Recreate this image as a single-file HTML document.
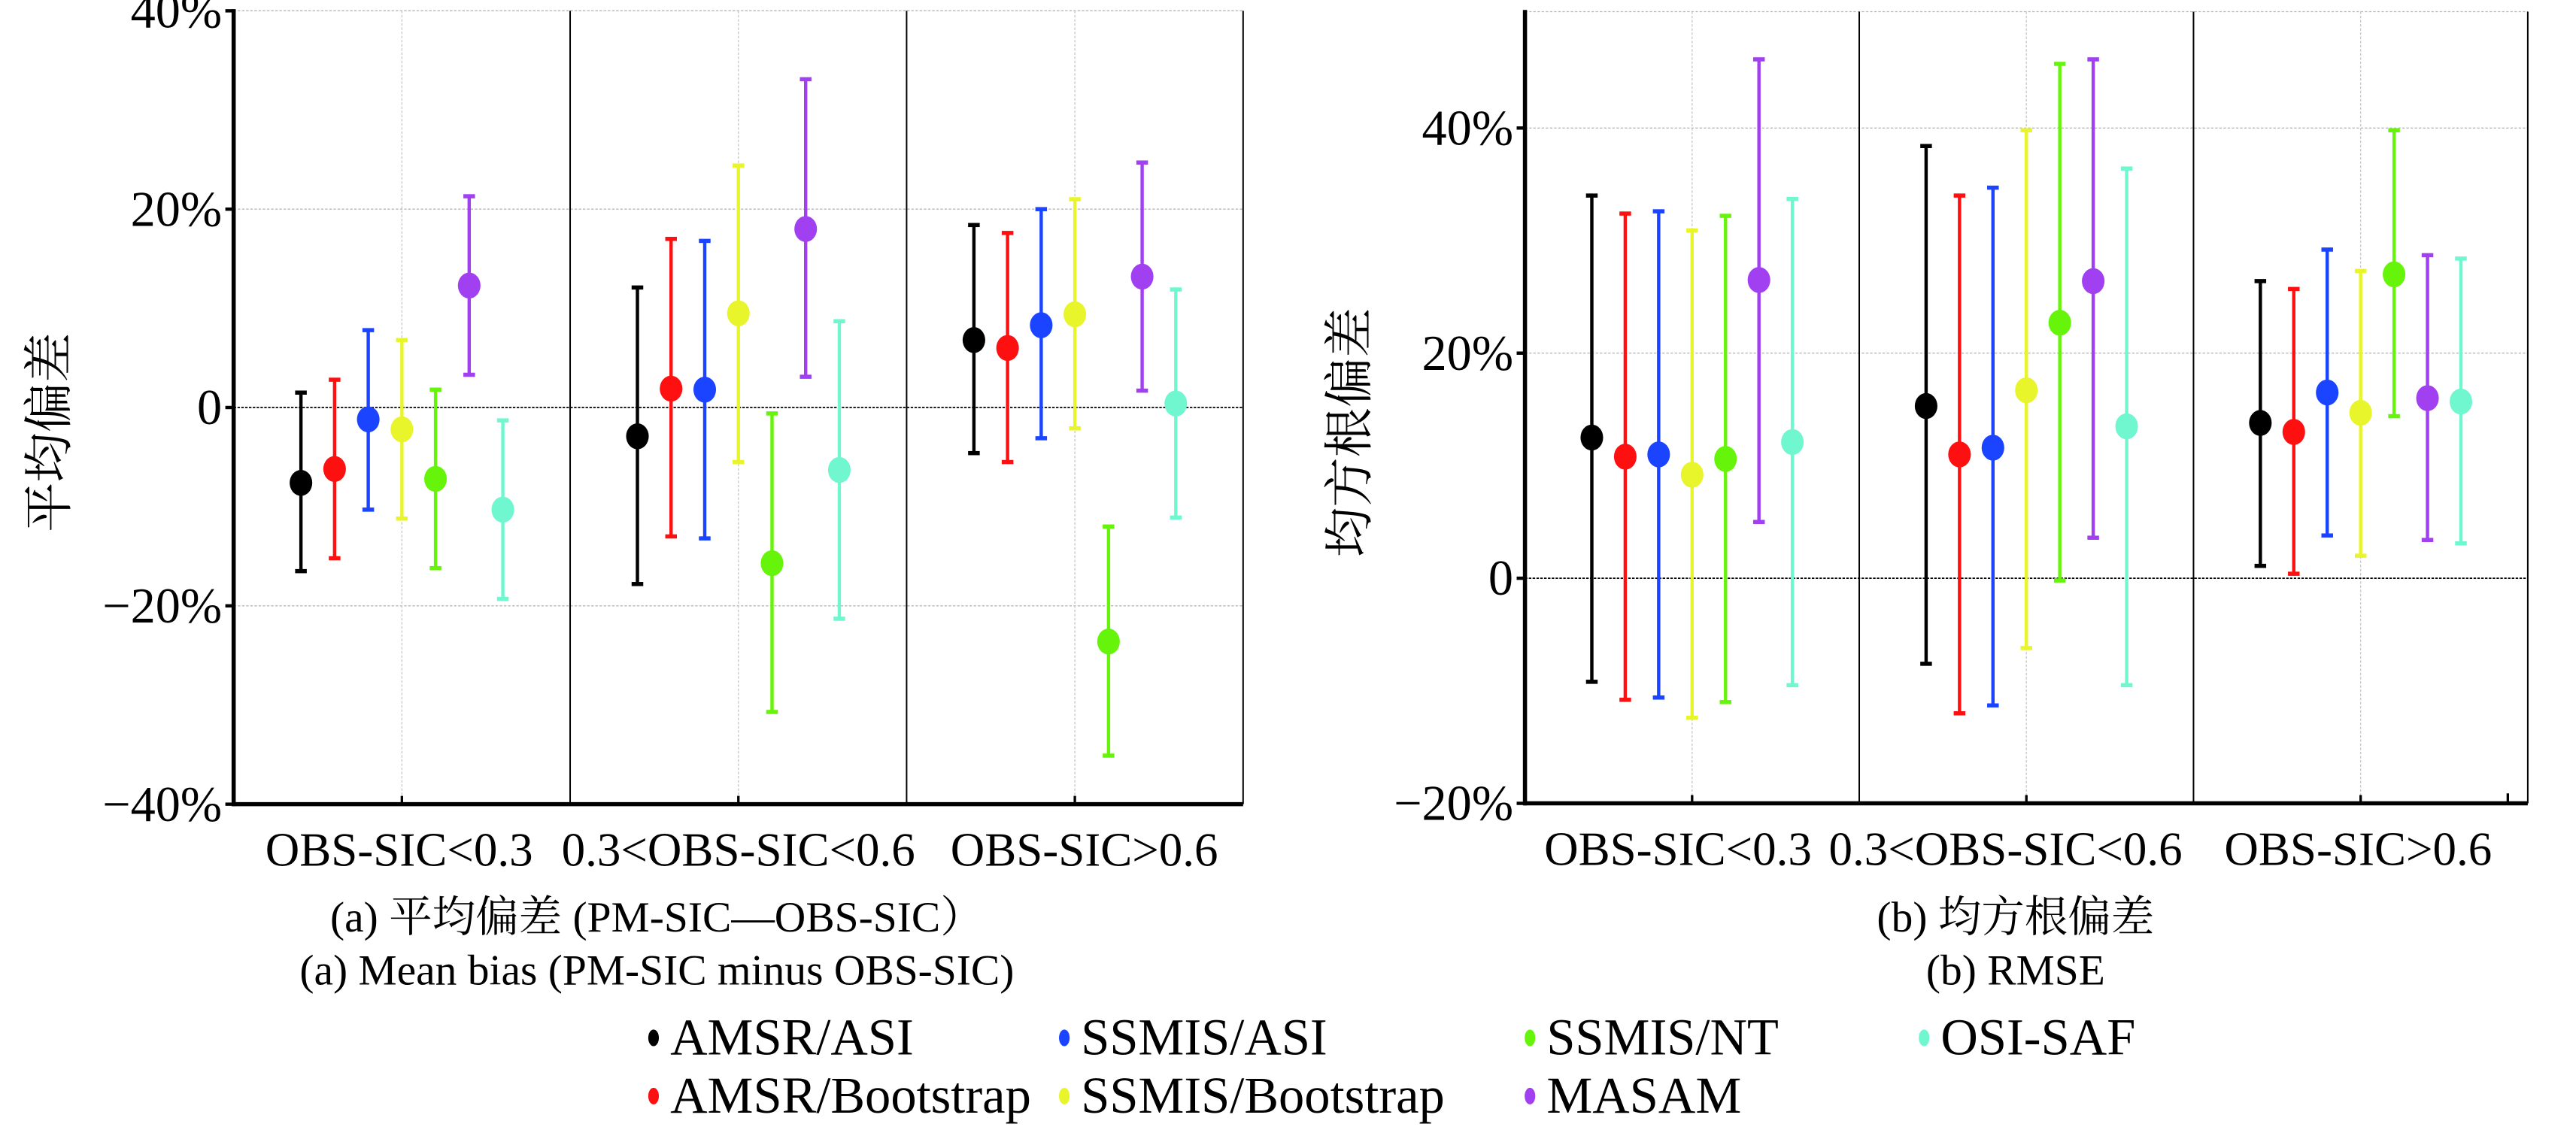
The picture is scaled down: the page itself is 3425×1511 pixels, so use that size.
<!DOCTYPE html>
<html><head><meta charset="utf-8"><style>html,body{margin:0;padding:0;background:#fff;}svg{display:block;}
text{font-family:"Liberation Serif","Noto Serif CJK SC","Noto Sans CJK SC",serif;fill:#000;}</style></head>
<body>
<svg id="chart" width="3425" height="1511" viewBox="0 0 1549 683" preserveAspectRatio="none" xmlns="http://www.w3.org/2000/svg">
<g id="static"></g>
<g id="marks"></g>
<g id="legend"></g>
</svg>
<script>
const categories = ["OBS-SIC<0.3","0.3<OBS-SIC<0.6","OBS-SIC>0.6"];
const seriesNames = ["AMSR/ASI","AMSR/Bootstrap","SSMIS/ASI","SSMIS/Bootstrap","SSMIS/NT","MASAM","OSI-SAF"];
const seriesColors = ["#000000","#ff1010","#1a44ff","#e8f52a","#66f50a","#a040f0","#70f7d0"];
// mean bias (%) per series: [group1, group2, group3]
const biasMean = [[-7.6,-2.9,6.8],[-6.2,1.9,6.0],[-1.2,1.8,8.3],[-2.2,9.5,9.4],[-7.2,-15.7,-23.6],[12.3,18.0,13.2],[-10.3,-6.3,0.4]];
const biasHigh = [[1.5,12.1,18.4],[2.8,17.0,17.6],[7.8,16.8,20.0],[6.8,24.4,21.0],[1.8,-0.6,-12.0],[21.3,33.1,24.7],[-1.3,8.7,11.9]];
const biasLow = [[-16.5,-17.8,-4.6],[-15.2,-13.0,-5.5],[-10.3,-13.2,-3.1],[-11.2,-5.5,-2.1],[-16.2,-30.7,-35.1],[3.3,3.1,1.7],[-19.3,-21.3,-11.1]];
// RMSE (%)
const rmseMean = [[12.5,15.3,13.8],[10.8,11.0,13.0],[11.0,11.6,16.5],[9.2,16.7,14.7],[10.6,22.7,27.0],[26.5,26.4,16.0],[12.1,13.5,15.7]];
const rmseHigh = [[34.0,38.4,26.4],[32.4,34.0,25.7],[32.6,34.7,29.2],[30.9,39.8,27.3],[32.2,45.7,39.8],[46.1,46.1,28.7],[33.7,36.4,28.4]];
const rmseLow = [[-9.2,-7.6,1.1],[-10.8,-12.0,0.4],[-10.6,-11.3,3.8],[-12.4,-6.2,2.0],[-11.0,-0.2,14.4],[5.0,3.6,3.4],[-9.5,-9.5,3.1]];
const biasTicks = [40,20,0,-20,-40];
const biasTickLabels = ["40%","20%","0","\u221220%","\u221240%"];
const rmseTicks = [40,20,0,-20];
const rmseTickLabels = ["40%","20%","0","\u221220%"];

const NS="http://www.w3.org/2000/svg";
function mk(parent,tag,attrs,txt){const e=document.createElementNS(NS,tag);for(const k in attrs)e.setAttribute(k,attrs[k]);if(txt!==undefined)e.textContent=txt;parent.appendChild(e);return e;}
const S=document.getElementById('static'), M=document.getElementById('marks'), L=document.getElementById('legend');

const panels=[
 {key:'bias',x0:140.5,x1:747.5,top:6.5,bottom:483.5,vmin:-40,vmax:40,mean:biasMean,hi:biasHigh,lo:biasLow,ticks:biasTicks,tl:biasTickLabels,ytitle:"平均偏差",ytx:30,
  t1:"(a) 平均偏差 (PM-SIC—OBS-SIC）",t2:"(a) Mean bias (PM-SIC minus OBS-SIC)",tcx:395,labx:[240,444,652]},
 {key:'rmse',x0:917,x1:1520,top:7,bottom:483,vmin:-20,vmax:50.34,mean:rmseMean,hi:rmseHigh,lo:rmseLow,ticks:rmseTicks,tl:rmseTickLabels,ytitle:"均方根偏差",ytx:812,
  t1:"(b) 均方根偏差",t2:"(b) RMSE",tcx:1212,labx:[1009,1206,1418]}
];
panels.forEach(p=>{
 const y=v=>p.bottom-(v-p.vmin)/(p.vmax-p.vmin)*(p.bottom-p.top);
 const gw=(p.x1-p.x0)/categories.length;
 const gx=i=>p.x0+gw*(i+0.5);
 const g=mk(S,'g',{});
 
 
 p.ticks.forEach((t,i)=>{
  const yy=y(t);
  if(t!==0 && Math.abs(yy-p.bottom)>1){const l=mk(g,'line',{x1:p.x0,x2:p.x1,y1:yy,y2:yy,stroke:'#b8b8b8','stroke-width':0.6,'stroke-dasharray':'1.5 1'});}
  mk(g,'line',{x1:p.x0-5,x2:p.x0,y1:yy,y2:yy,stroke:'#000','stroke-width':2});
  const tx=mk(g,'text',{x:p.x0-7,y:yy+10,'text-anchor':'end','font-size':30},p.tl[i]);
  
  
 });
 mk(g,'line',{x1:p.x0,x2:p.x1,y1:p.top,y2:p.top,stroke:'#b8b8b8','stroke-width':0.6,'stroke-dasharray':'1.5 1'});
 categories.forEach((c,i)=>{
  mk(g,'line',{x1:gx(i),x2:gx(i),y1:p.top,y2:p.bottom,stroke:'#c8c8c8','stroke-width':0.6,'stroke-dasharray':'1.5 1'});
  mk(g,'line',{x1:gx(i),x2:gx(i),y1:p.bottom-5,y2:p.bottom,stroke:'#000','stroke-width':1.5});
  if(i>0){const d=mk(g,'line',{x1:p.x0+gw*i,x2:p.x0+gw*i,y1:p.top,y2:p.bottom,stroke:'#000','stroke-width':0.9});}
  const lab=mk(g,'text',{x:p.labx[i],y:p.bottom+37,'text-anchor':'middle','font-size':28.5},c);
  
  
 });
 if(p.key==='rmse') mk(g,'line',{x1:p.x1-12,x2:p.x1-12,y1:p.bottom-6,y2:p.bottom,stroke:'#000','stroke-width':1.5});
 mk(g,'line',{x1:p.x1,x2:p.x1,y1:p.top,y2:p.bottom,stroke:'#000','stroke-width':0.9});
 const z=mk(g,'line',{x1:p.x0,x2:p.x1,y1:y(0),y2:y(0),stroke:'#000','stroke-width':0.8,'stroke-dasharray':'1.5 0.8'});
 
 
 const ax=mk(g,'line',{x1:p.x0,x2:p.x0,y1:p.top-1,y2:p.bottom+1.2,stroke:'#000','stroke-width':2.5});
 
 
 const bx=mk(g,'line',{x1:p.x0-1,x2:p.x1,y1:p.bottom,y2:p.bottom,stroke:'#000','stroke-width':2.5});
 
 
 const cy=(p.top+p.bottom)/2+15;
 const yt=mk(g,'text',{x:p.ytx,y:cy,'text-anchor':'middle','font-size':30,transform:`rotate(-90 ${p.ytx} ${cy})`,'dominant-baseline':'central'},p.ytitle);
 
 
 const t1=mk(g,'text',{x:p.tcx,y:560,'text-anchor':'middle','font-size':26},p.t1);
 
 
 const t2=mk(g,'text',{x:p.tcx,y:592,'text-anchor':'middle','font-size':26},p.t2);
 
 
 seriesNames.forEach((s,si)=>{
  categories.forEach((c,ci)=>{
   const x=gx(ci)+(si-3)*gw*0.1;
   const col=seriesColors[si];
   const eg=mk(M,'g',{});
   
   
   const yh=y(p.hi[si][ci]), yl=y(p.lo[si][ci]);
   mk(eg,'line',{x1:x,x2:x,y1:yh,y2:yl,stroke:col,'stroke-width':2});
   mk(eg,'line',{x1:x-3.5,x2:x+3.5,y1:yh,y2:yh,stroke:col,'stroke-width':2.5});
   mk(eg,'line',{x1:x-3.5,x2:x+3.5,y1:yl,y2:yl,stroke:col,'stroke-width':2.5});
   const pt=mk(eg,'ellipse',{cx:x,cy:y(p.mean[si][ci]),rx:6.8,ry:7.8,fill:col});
   
   
  });
 });
});
const legPos=[[393,633],[393,668],[640,633],[640,668],[920,633],[920,668],[1157,633]];
seriesNames.forEach((s,i)=>{
 const [lx,ly]=legPos[i];
 const e=mk(L,'g',{});
 
 
 mk(e,'ellipse',{cx:lx,cy:ly-9,rx:3.2,ry:5,fill:seriesColors[i]});
 mk(e,'text',{x:lx+10,y:ly+1,'font-size':31},s);
});
</script>
</body></html>
